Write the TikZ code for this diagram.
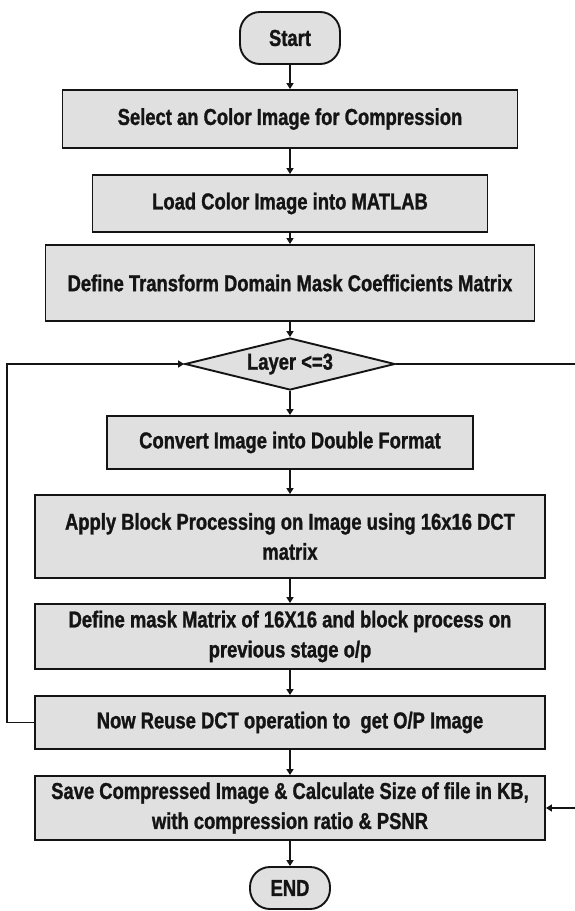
\documentclass[tikz,border=0pt]{standalone}
\usepackage{fontspec}
\setmainfont{Liberation Sans}[FakeStretch=0.8, BoldFeatures={FakeBold=1.2}]
\usetikzlibrary{arrows.meta,shapes.geometric}

\definecolor{boxgray}{HTML}{E0E0E0}
\definecolor{ink}{HTML}{141414}

\tikzset{
  proc/.style={draw=ink, line width=1.9pt, fill=boxgray, inner sep=0pt,
    align=center, text=ink, font=\bfseries\fontsize{23}{30}\selectfont},
  term/.style={proc, rounded corners=20pt},
  decision/.style={proc, diamond, aspect=4},
  flow/.style={draw=ink, line width=1.6pt, -{Triangle[width=7pt,length=6pt]}},
}

\begin{document}
\begin{tikzpicture}[x=1pt,y=-1pt]
  \fill[white] (0,0) rectangle (575,911);
  \useasboundingbox (0,0) rectangle (575,911);

  % main column
  \node[term, minimum width=100pt, minimum height=52pt] (start) at (290,38) {Start};
  \node[proc, minimum width=455pt, minimum height=58pt] (select) at (290,119)
    {Select an Color Image for Compression};
  \node[proc, minimum width=395pt, minimum height=57pt] (load) at (290,203.5)
    {Load Color Image into MATLAB};
  \node[proc, minimum width=489pt, minimum height=76pt] (mask) at (290,283)
    {Define Transform Domain Mask Coefficients Matrix};
  \node[decision, minimum width=210pt, minimum height=52pt] (layer) at (290,364)
    {Layer <=3};
  \node[proc, minimum width=366pt, minimum height=53pt] (double) at (290,442.5)
    {Convert Image into Double Format};
  \node[proc, minimum width=510pt, minimum height=83pt] (apply) at (290,536.5)
    {Apply Block Processing on Image using 16x16 DCT\\matrix};
  \node[proc, minimum width=510pt, minimum height=65pt] (defmask) at (290,636.5)
    {Define mask Matrix of 16X16 and block process on\\previous stage o/p};
  \node[proc, minimum width=510pt, minimum height=53pt] (reuse) at (290,722.5)
    {Now Reuse DCT operation to \ get O/P Image};
  \node[proc, minimum width=510pt, minimum height=64pt] (save) at (290,808)
    {Save Compressed Image \& Calculate Size of file in KB,\\with compression ratio \& PSNR};
  \node[term, minimum width=80pt, minimum height=42pt] (stop) at (290,888) {END};

  % loop rails
  \coordinate (lrail) at (7,0);
  \coordinate (rrail) at (582,0);

  % straight-down flow
  \draw[flow] (start) -- (select);
  \draw[flow] (select) -- (load);
  \draw[flow] (load) -- (mask);
  \draw[flow] (mask) -- (layer);
  \draw[flow] (layer) -- (double);
  \draw[flow] (double) -- (apply);
  \draw[flow] (apply) -- (defmask);
  \draw[flow] (defmask) -- (reuse);
  \draw[flow] (reuse) -- (save);
  \draw[flow] (save) -- (stop);

  % feedback to the layer test
  \draw[flow] (reuse.west) -- (reuse.west -| lrail) |- (layer.west);
  % exit once all layers are done
  \draw[flow] (layer.east) -- (layer.east -| rrail) |- (save.east);
\end{tikzpicture}
\end{document}
